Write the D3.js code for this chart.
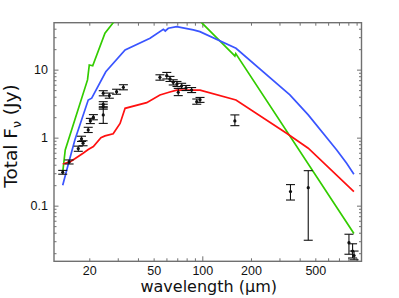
<!DOCTYPE html>
<html>
<head>
<meta charset="utf-8">
<script src="https://cdn.jsdelivr.net/npm/d3@7"></script>
<style>
  body { margin: 0; background: #fff; }
  svg { display: block; font-family: "Liberation Sans", Arial, sans-serif; }
</style>
</head>
<body>
<div id="chart"></div>
<script>
// observed photometry: wavelength (um), flux (Jy), lower / upper error
var obsWave = [13.7, 15.0, 17.1, 17.9, 18.3, 19.7, 20.3, 21.2, 24.4, 24.4, 24.4, 24.4, 26.6, 29.5, 32.5,
  54.7, 60.3, 63.1, 66.1, 69.7, 74.5, 71.0, 79.3, 85.9, 92.4, 96.8, 159,
  351, 452, 807, 850, 868];
var obsFlux = [0.31, 0.44, 0.69, 0.96, 0.83, 1.30, 1.76, 2.00, 3.10, 2.85, 2.16, 4.50, 4.15, 4.74, 5.50,
  7.7, 8.2, 7.3, 6.5, 6.16, 5.8, 4.65, 5.38, 5.0, 3.4, 3.6, 1.76,
  0.161, 0.184, 0.0286, 0.0215, 0.0185];
var obsLo = [0.29, 0.41, 0.63, 0.88, 0.76, 1.19, 1.61, 1.83, 2.85, 2.62, 1.62, 4.12, 3.80, 4.35, 5.05,
  7.0, 7.3, 6.7, 5.95, 5.65, 5.3, 4.15, 4.93, 4.6, 3.1, 3.3, 1.50,
  0.121, 0.031, 0.0193, 0.0170, 0.0160];
var obsHi = [0.33, 0.47, 0.75, 1.05, 0.90, 1.42, 1.92, 2.18, 3.38, 3.10, 2.75, 4.90, 4.52, 5.15, 6.0,
  8.4, 9.1, 7.95, 7.1, 6.7, 6.3, 5.3, 5.85, 5.45, 3.7, 3.9, 2.16,
  0.204, 0.327, 0.038, 0.0275, 0.0215];

// model curves
var greenWave = [13.7, 14.2, 19.5, 20.0, 21.0, 25.0, 28.1, 35, 80, 99, 156, 159, 161, 866];
var greenFlux = [0.31, 0.66, 7.06, 11.7, 11.4, 34.3, 49, 90, 90, 49, 16.6, 15.8, 17.2, 0.039];

var blueWave = [13.7, 15.0, 16.3, 19.7, 20.7, 25.3, 33.3, 47.5, 57.4, 59.0, 61.6, 69.4, 88, 96.6, 161.5, 348, 452, 678, 781, 866];
var blueFlux = [0.20, 0.45, 0.93, 3.58, 3.8, 9.3, 19.5, 29, 39.3, 37, 40.6, 42.9, 38.4, 36.2, 20.6, 4.25, 2.16, 0.66, 0.42, 0.29];

var redWave = [13.7, 15.2, 18.3, 19.7, 21.2, 23.6, 25.0, 28.1, 31.0, 33.3, 45.3, 54.7, 62.2, 69.4, 96.8, 161.5, 332, 452, 866];
var redFlux = [0.41, 0.44, 0.59, 0.67, 0.74, 1.0, 1.06, 1.14, 1.62, 2.7, 3.27, 4.25, 4.65, 5.0, 5.0, 3.58, 1.16, 0.70, 0.161];

var xLabels = [20, 50, 100, 200, 500];
var yLabels = [0.1, 1, 10];

var W = 399, H = 298;
var pLeft = 54, pRight = 361.5, pTop = 22.7, pBottom = 261.3;

var svg = d3.select('#chart').append('svg')
  .attr('width', W)
  .attr('height', H);

var x = d3.scaleLog().domain([12.1, 965]).range([pLeft, pRight]);
var y = d3.scaleLog().domain([0.0152, 49]).range([pBottom, pTop]);

// ticks at every n * 10^k inside the domain
function logTicks(scale) {
  var d = scale.domain(), out = [];
  for (var k = -3; k <= 4; k++) {
    for (var n = 1; n <= 9; n++) {
      var v = +(n * Math.pow(10, k)).toPrecision(6);
      if (v >= d[0] && v <= d[1]) out.push(v);
    }
  }
  return out;
}
var xt = logTicks(x), yt = logTicks(y);
var isMajor = function (v) { return Math.abs(Math.log10(v) - Math.round(Math.log10(v))) < 1e-6; };

svg.append('clipPath').attr('id', 'clip')
  .append('rect').attr('x', pLeft).attr('y', pTop)
  .attr('width', pRight - pLeft).attr('height', pBottom - pTop);

var frameCol = '#707070';

// axes with inward ticks
var gx = svg.append('g').attr('transform', 'translate(0,' + pBottom + ')')
  .call(d3.axisBottom(x).tickValues(xt).tickSize(-3).tickPadding(5)
    .tickFormat(function (d) { return xLabels.indexOf(d) >= 0 ? d : ''; }));
var gxt = svg.append('g').attr('transform', 'translate(0,' + pTop + ')')
  .call(d3.axisTop(x).tickValues(xt).tickSize(-3).tickFormat(''));
var gy = svg.append('g').attr('transform', 'translate(' + pLeft + ',0)')
  .call(d3.axisLeft(y).tickValues(yt).tickSize(-2.5).tickPadding(6)
    .tickFormat(function (d) { return yLabels.indexOf(d) >= 0 ? d : ''; }));
var gyr = svg.append('g').attr('transform', 'translate(' + pRight + ',0)')
  .call(d3.axisRight(y).tickValues(yt).tickSize(-2.5).tickFormat(''));

gy.selectAll('.tick line').filter(isMajor).attr('x2', 4.5);
gyr.selectAll('.tick line').filter(isMajor).attr('x2', -4.5);
gx.selectAll('.tick line').filter(isMajor).attr('y2', -5);
gxt.selectAll('.tick line').filter(isMajor).attr('y2', 5);

[gx, gxt, gy, gyr].forEach(function (g) {
  g.select('.domain').remove();
  g.selectAll('.tick line').attr('stroke', frameCol).attr('stroke-width', 1);
  g.selectAll('text').attr('font-size', 12.5).attr('fill', '#111')
    .attr('font-family', '"Liberation Sans", Arial, sans-serif');
});
// drop the empty label nodes so only real labels remain
gx.selectAll('text').filter(function (d) { return xLabels.indexOf(d) < 0; }).remove();
gy.selectAll('text').filter(function (d) { return yLabels.indexOf(d) < 0; }).remove();

svg.append('rect')
  .attr('x', pLeft).attr('y', pTop)
  .attr('width', pRight - pLeft).attr('height', pBottom - pTop)
  .attr('fill', 'none').attr('stroke', frameCol).attr('stroke-width', 1.4);

// model lines
var line = d3.line()
  .x(function (d) { return x(d[0]); })
  .y(function (d) { return y(d[1]); });

var models = [
  { col: '#33cc00', w: greenWave, f: greenFlux },
  { col: '#3a55ff', w: blueWave, f: blueFlux },
  { col: '#ff1010', w: redWave, f: redFlux }
];
var plot = svg.append('g').attr('clip-path', 'url(#clip)');
models.forEach(function (m) {
  plot.append('path')
    .datum(d3.zip(m.w, m.f))
    .attr('d', line)
    .attr('fill', 'none')
    .attr('stroke', m.col)
    .attr('stroke-width', 1.7);
});

// data points with error bars
var obs = d3.range(obsWave.length).map(function (i) {
  return { w: obsWave[i], f: obsFlux[i], lo: obsLo[i], hi: obsHi[i] };
});
var cap = 4.5;
var pts = svg.append('g').selectAll('g').data(obs).enter().append('g')
  .attr('stroke', '#111').attr('stroke-width', 1.1);
pts.append('line')
  .attr('x1', function (d) { return x(d.w); }).attr('x2', function (d) { return x(d.w); })
  .attr('y1', function (d) { return y(d.lo); }).attr('y2', function (d) { return y(d.hi); });
pts.append('line')
  .attr('x1', function (d) { return x(d.w) - cap; }).attr('x2', function (d) { return x(d.w) + cap; })
  .attr('y1', function (d) { return y(d.lo); }).attr('y2', function (d) { return y(d.lo); });
pts.append('line')
  .attr('x1', function (d) { return x(d.w) - cap; }).attr('x2', function (d) { return x(d.w) + cap; })
  .attr('y1', function (d) { return y(d.hi); }).attr('y2', function (d) { return y(d.hi); });
pts.append('circle')
  .attr('cx', function (d) { return x(d.w); })
  .attr('cy', function (d) { return y(d.f); })
  .attr('r', 1.6).attr('fill', '#111').attr('stroke', 'none');

// axis titles
svg.append('text')
  .attr('x', (pLeft + pRight) / 2 + 1).attr('y', 292)
  .attr('text-anchor', 'middle')
  .attr('font-family', '"DejaVu Sans", sans-serif')
  .attr('font-size', 16).attr('fill', '#111')
  .text('wavelength (\u00b5m)');

var ylab = svg.append('text')
  .attr('transform', 'translate(17,136) rotate(-90)')
  .attr('text-anchor', 'middle')
  .attr('font-family', '"DejaVu Sans", sans-serif')
  .attr('font-size', 18.5).attr('fill', '#111');
ylab.append('tspan').text('Total F');
ylab.append('tspan').attr('font-size', 12.5).attr('dy', 4).text('\u03bd');
ylab.append('tspan').attr('dy', -4).text(' (Jy)');
</script>
</body>
</html>
